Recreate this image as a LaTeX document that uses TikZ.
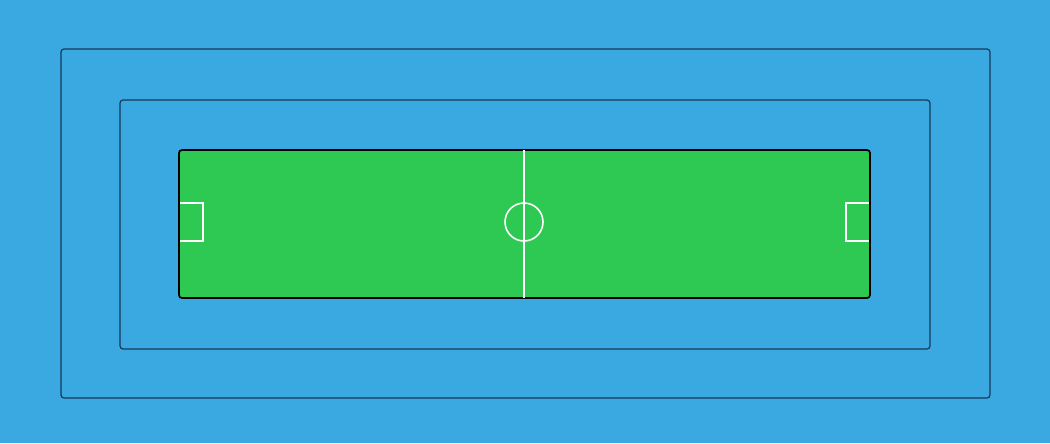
\documentclass[tikz,border=0pt]{standalone}
\usetikzlibrary{positioning,calc}
\definecolor{poolblue}{RGB}{58,169,225}
\definecolor{pitchgreen}{RGB}{46,201,83}
\definecolor{ringline}{RGB}{22,58,90}

\begin{document}
\begin{tikzpicture}[x=0.1mm,y=-0.1mm]
		\fill[poolblue] (0,0) rectangle (1050,443);
		\useasboundingbox (0,0) rectangle (1050,443);
		\draw[ringline,line width=0.35pt,rounded corners=0.3mm] (61,49) rectangle (990,398);
		\draw[ringline,line width=0.35pt,rounded corners=0.3mm] (120,100) rectangle (930,349);
		\draw[fill=pitchgreen,line width=0.5pt,rounded corners=0.3mm] (179,150) rectangle (870,298);
		\draw[white,line width=0.45pt] (524,150) -- (524,298);
		\draw[white,line width=0.45pt] (524,222) circle (19);
		\draw[white,line width=0.45pt] (180,203) -- (203,203) -- (203,241) -- (180,241);
		\draw[white,line width=0.45pt] (869,203) -- (846,203) -- (846,241) -- (869,241);
	\end{tikzpicture}
\end{document}
